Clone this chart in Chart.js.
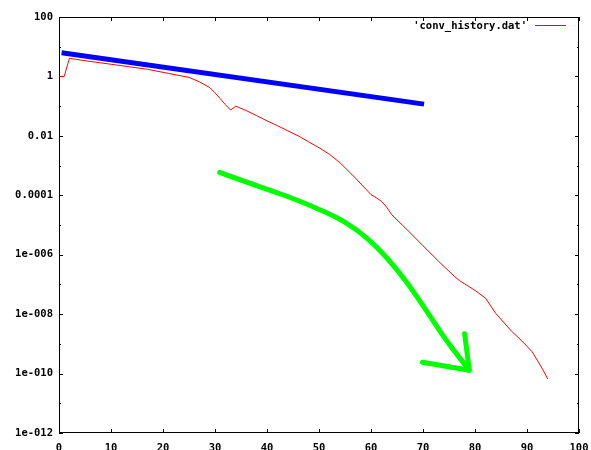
<!DOCTYPE html>
<html>
<head>
<meta charset="utf-8">
<script src="https://cdn.jsdelivr.net/npm/chart.js@4.4.1/dist/chart.umd.min.js"></script>
<style>
  html, body { margin: 0; padding: 0; background: #fff; }
  canvas { display: block; }
</style>
</head>
<body>
<canvas id="chart" width="591" height="450"></canvas>
<script>
// convergence history (red)
const iterations = [0, 1, 2, 5, 11, 17, 21, 25, 27, 29, 30, 31, 32, 33, 34, 36, 38, 40, 42, 44, 46, 48, 50, 52, 54, 55, 57, 60, 61, 62, 63, 64, 66, 67, 70, 73, 76, 77, 78, 80, 82, 84, 87, 89, 91, 93, 94];
const residuals = [1, 1, 4.07, 3.39, 2.43, 1.74, 1.27, 0.93, 0.66, 0.42, 0.28, 0.18, 0.112, 0.074, 0.1, 0.071, 0.048, 0.032, 0.022, 0.0148, 0.01, 0.0063, 0.004, 0.0024, 0.00126, 8.5e-4, 3.8e-4, 1.05e-4, 8.3e-5, 6.3e-5, 4.0e-5, 2.2e-5, 1.0e-5, 6.8e-6, 2.0e-6, 6.0e-7, 1.9e-7, 1.35e-7, 1.05e-7, 6.3e-8, 3.5e-8, 1.05e-8, 2.7e-9, 1.26e-9, 5.4e-10, 1.4e-10, 6.5e-11];

// hand-drawn blue trend line
const trendX = [0.5, 70.2];
const trendY = [6.3, 0.117];

// hand-drawn green curve + arrow head
const curveX = [30.9, 36.8, 43.2, 49.6, 54.8, 59.3, 63.1, 67, 70.8, 74.7, 78.9];
const curveY = [5.9e-4, 2.5e-4, 1.02e-4, 3.6e-5, 1.29e-5, 3.5e-6, 7.6e-7, 1.1e-7, 1.2e-8, 1.17e-9, 1.3e-10];
const arrowX = [69.9, 78.9, 78.0];
const arrowY = [2.4e-10, 1.3e-10, 2.2e-9];

const xTickValues = [0, 10, 20, 30, 40, 50, 60, 70, 80, 90, 100];
const yTickValues = [1e-12, 1e-10, 1e-8, 1e-6, 1e-4, 1e-2, 1, 100];
const yTickLabels = ['1e-012', '1e-010', '1e-008', '1e-006', '0.0001', '0.01', '1', '100'];
const yMinorTicks = [1e-11, 1e-9, 1e-7, 1e-5, 1e-3, 1e-1, 10];

const seriesLabel = "'conv_history.dat'";
const seriesColor = '#ff0000';

function points(xs, ys) {
  return xs.map((x, i) => ({ x, y: ys[i] }));
}

Chart.defaults.font.family = '"DejaVu Sans Mono", monospace';
Chart.defaults.font.size = 10.5;
Chart.defaults.font.weight = 'bold';
Chart.defaults.color = '#000';

// gnuplot style border with inward ticks on all four sides
const framePlugin = {
  id: 'frame',
  beforeDatasetsDraw(chart) {
    const { ctx, chartArea: a, scales } = chart;
    const xs = scales.x, ys = scales.y;
    ctx.save();
    ctx.strokeStyle = '#000';
    ctx.lineWidth = 1;
    ctx.strokeRect(a.left + 0.5, a.top + 0.5, a.right - a.left - 1, a.bottom - a.top - 1);
    ctx.beginPath();
    xTickValues.forEach(v => {
      const px = Math.round(xs.getPixelForValue(v)) + 0.5;
      ctx.moveTo(px, a.bottom); ctx.lineTo(px, a.bottom - 4);
      ctx.moveTo(px, a.top); ctx.lineTo(px, a.top + 4);
    });
    const yTick = (v, len) => {
      const py = Math.round(ys.getPixelForValue(v)) + 0.5;
      ctx.moveTo(a.left, py); ctx.lineTo(a.left + len, py);
      ctx.moveTo(a.right, py); ctx.lineTo(a.right - len, py);
    };
    yTickValues.forEach(v => yTick(v, 4));
    yMinorTicks.forEach(v => yTick(v, 2));
    ctx.stroke();
    ctx.restore();
  },
  afterDraw(chart) {
    const { ctx } = chart;
    ctx.save();
    ctx.font = 'bold 10.5px "DejaVu Sans Mono", monospace';
    ctx.fillStyle = '#000';
    ctx.textAlign = 'right';
    ctx.textBaseline = 'middle';
    ctx.fillText(seriesLabel, 527, 26);
    ctx.strokeStyle = seriesColor;
    ctx.lineWidth = 1;
    ctx.beginPath();
    ctx.moveTo(535, 25.5);
    ctx.lineTo(566, 25.5);
    ctx.stroke();
    ctx.restore();
  }
};

new Chart(document.getElementById('chart'), {
  type: 'scatter',
  data: {
    datasets: [
      {
        label: seriesLabel,
        data: points(iterations, residuals),
        showLine: true,
        borderColor: seriesColor,
        borderWidth: 1,
        pointRadius: 0,
        tension: 0
      },
      {
        label: 'trend',
        data: points(trendX, trendY),
        showLine: true,
        borderColor: '#0000ff',
        borderWidth: 5,
        pointRadius: 0
      },
      {
        label: 'curve',
        data: points(curveX, curveY),
        showLine: true,
        borderColor: '#00ff00',
        borderWidth: 5,
        borderCapStyle: 'round',
        cubicInterpolationMode: 'monotone',
        pointRadius: 0
      },
      {
        label: 'arrow',
        data: points(arrowX, arrowY),
        showLine: true,
        borderColor: '#00ff00',
        borderWidth: 5,
        borderCapStyle: 'round',
        borderJoinStyle: 'round',
        pointRadius: 0
      }
    ]
  },
  options: {
    responsive: false,
    animation: false,
    layout: { padding: { top: 17, right: 12, left: 0, bottom: 0 } },
    plugins: {
      legend: { display: false },
      tooltip: { enabled: false }
    },
    scales: {
      x: {
        type: 'linear',
        min: 0,
        max: 100,
        grid: { display: false, drawTicks: false },
        border: { display: false },
        afterBuildTicks: scale => { scale.ticks = xTickValues.map(v => ({ value: v })); },
        afterFit: scale => {
          scale.height = 17;
          scale.paddingLeft = 0;
          scale.paddingRight = 0;
        },
        ticks: { padding: 9, maxRotation: 0, autoSkip: false, callback: v => String(v) }
      },
      y: {
        type: 'logarithmic',
        min: 1e-12,
        max: 100,
        grid: { display: false, drawTicks: false },
        border: { display: false },
        afterBuildTicks: scale => { scale.ticks = yTickValues.map(v => ({ value: v })); },
        afterFit: scale => { scale.width = 59; },
        ticks: {
          padding: 6,
          autoSkip: false,
          callback: v => {
            const i = yTickValues.indexOf(v);
            return i >= 0 ? yTickLabels[i] : '';
          }
        }
      }
    }
  },
  plugins: [framePlugin]
});
</script>
</body>
</html>
